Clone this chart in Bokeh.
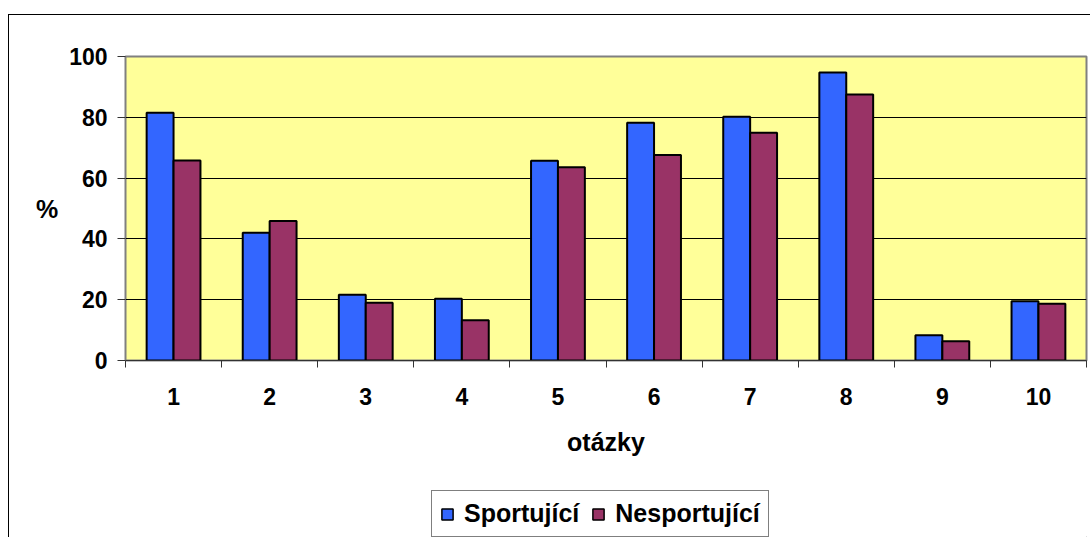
from bokeh.plotting import figure
from bokeh.layouts import column
from bokeh.models import (Range1d, FixedTicker, Legend, LegendItem,
                          ColumnDataSource)
from bokeh.embed import file_html
from bokeh.resources import INLINE

questions = [1, 2, 3, 4, 5, 6, 7, 8, 9, 10]
tick_labels = ["1", "2", "3", "4", "5", "6", "7", "8", "9", "10"]
sportujici = [81.5, 42.0, 21.6, 20.3, 65.7, 78.2, 80.2, 94.7, 8.3, 19.5]
nesportujici = [65.8, 45.9, 19.0, 13.2, 63.6, 67.6, 74.9, 87.5, 6.3, 18.7]
series_names = ["Sportující", "Nesportující"]
colors = ["#3366FF", "#993366"]

FONT = "Liberation Sans"

p = figure(frame_width=961, frame_height=304,
           min_border_left=116, min_border_right=4, min_border_top=41,
           min_border_bottom=110,
           x_range=Range1d(0.5, 10.5), y_range=Range1d(0, 100),
           output_backend="svg", toolbar_location=None)

p.background_fill_color = "#FFFF99"
p.border_fill_color = "white"
p.outline_line_color = "#808080"
p.outline_line_width = 2

src = ColumnDataSource(dict(
    xb=[q - 0.14 for q in questions],
    xr=[q + 0.14 for q in questions],
    s=sportujici, n=nesportujici))

p.vbar(x="xb", top="s", width=0.28, source=src, fill_color=colors[0],
       line_color="black", line_width=2)
p.vbar(x="xr", top="n", width=0.28, source=src, fill_color=colors[1],
       line_color="black", line_width=2)

# x axis
p.xaxis.ticker = FixedTicker(ticks=questions,
                             minor_ticks=[q - 0.5 for q in questions] + [10.5])
p.xaxis.major_label_overrides = {q: l for q, l in zip(questions, tick_labels)}
p.xaxis.major_tick_line_color = None
p.xaxis.minor_tick_out = 7
p.xaxis.minor_tick_in = 0
p.xaxis.minor_tick_line_color = "#333333"
p.xaxis.axis_line_color = "#333333"
p.xaxis.major_label_text_font = FONT
p.xaxis.major_label_text_font_style = "bold"
p.xaxis.major_label_text_font_size = "23px"
p.xaxis.major_label_text_color = "black"
p.xaxis.major_label_standoff = 20
p.xaxis.axis_label = "otázky"
p.xaxis.axis_label_text_font = FONT
p.xaxis.axis_label_text_font_style = "bold"
p.xaxis.axis_label_text_font_size = "25px"
p.xaxis.axis_label_text_color = "black"
p.xaxis.axis_label_standoff = 20

# y axis
p.yaxis.ticker = FixedTicker(ticks=[0, 20, 40, 60, 80, 100])
p.yaxis.minor_tick_line_color = None
p.yaxis.major_tick_out = 8
p.yaxis.major_tick_in = 0
p.yaxis.major_tick_line_color = "#333333"
p.yaxis.axis_line_color = "#808080"
p.yaxis.major_label_text_font = FONT
p.yaxis.major_label_text_font_style = "bold"
p.yaxis.major_label_text_font_size = "23px"
p.yaxis.major_label_text_color = "black"
p.yaxis.major_label_standoff = 10
p.yaxis.axis_label = "%"
p.yaxis.axis_label_orientation = "horizontal"
p.yaxis.axis_label_text_font = FONT
p.yaxis.axis_label_text_font_style = "bold"
p.yaxis.axis_label_text_font_size = "25px"
p.yaxis.axis_label_text_color = "black"
p.yaxis.axis_label_standoff = 8

p.xgrid.grid_line_color = None
p.ygrid.grid_line_color = "black"
p.ygrid.grid_line_width = 1

# legend strip below the chart
pl = figure(width=1081, height=67, min_border=0,
            x_range=Range1d(0, 1), y_range=Range1d(0, 1),
            x_axis_type=None, y_axis_type=None,
            output_backend="svg", toolbar_location=None)
pl.outline_line_color = None
pl.background_fill_color = "white"
pl.border_fill_color = "white"
# legend-only proxies, kept outside the visible range
proxy = ColumnDataSource(dict(x=[5], top=[0]))
l1 = pl.vbar(x="x", top="top", width=0.1, source=proxy,
             fill_color=colors[0], line_color="black", line_width=1.5)
l2 = pl.vbar(x="x", top="top", width=0.1, source=proxy,
             fill_color=colors[1], line_color="black", line_width=1.5)

legend = Legend(items=[LegendItem(label=series_names[0], renderers=[l1]),
                       LegendItem(label=series_names[1], renderers=[l2])],
                orientation="horizontal", location=(306, 0),
                label_text_font=FONT, label_text_font_style="bold",
                label_text_font_size="25px", label_text_color="black",
                label_height=29, glyph_width=14, glyph_height=14,
                spacing=12, label_standoff=10, padding=8, margin=0,
                border_line_color="black", border_line_width=1,
                background_fill_color="white", background_fill_alpha=1)
pl.add_layout(legend, "center")

layout = column(p, pl, spacing=0,
                styles={"margin-left": "8px", "margin-top": "14px",
                        "border-left": "1px solid black",
                        "border-top": "1px solid black"})

open("out.html", "w").write(file_html(layout, INLINE))
